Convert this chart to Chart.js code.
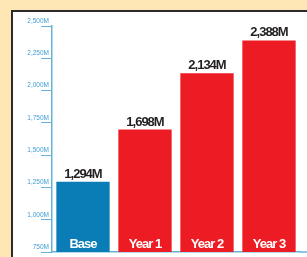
<!DOCTYPE html>
<html lang="en">
<head>
  <meta charset="UTF-8" />
  <title>Base vs Years</title>
  <script src="https://cdn.jsdelivr.net/npm/chart.js"></script>
  <style>
    html, body { margin: 0; padding: 0; }
    body { width: 307px; height: 257px; background: #fee7b4; position: relative; overflow: hidden; }
    .panel {
      position: absolute; left: 11px; top: 10px; width: 320px; height: 270px;
      background: #fff; border-left: 2px solid #2b2b2b; border-top: 2px solid #2b2b2b;
    }
    #growthChart { position: absolute; left: 0; top: 0; }
  </style>
</head>
<body>
  <div class="panel"></div>
  <canvas id="growthChart" width="307" height="257"></canvas>

  <script>
    // data
    const categories = ['Base', 'Year 1', 'Year 2', 'Year 3'];
    const values = [1294, 1698, 2134, 2388];
    const valueLabels = ['1,294M', '1,698M', '2,134M', '2,388M'];
    const tickLabels = ['750M', '1,000M', '1,250M', '1,500M', '1,750M', '2,000M', '2,250M', '2,500M'];
    const barColors = ['#0a7db6', '#ed1c24', '#ed1c24', '#ed1c24'];

    const axisBlue = '#66b2dc';

    // value on top, category name inside the bar
    const barText = {
      id: 'barText',
      afterDatasetsDraw(chart) {
        const ctx = chart.ctx;
        const meta = chart.getDatasetMeta(0);
        const area = chart.chartArea;
        ctx.save();
        ctx.textAlign = 'center';
        ctx.textBaseline = 'alphabetic';
        ctx.letterSpacing = '-1px';
        ctx.font = 'bold 13px "Liberation Sans", Arial, sans-serif';
        meta.data.forEach((bar, i) => {
          ctx.fillStyle = '#231f20';
          ctx.fillText(valueLabels[i], bar.x, bar.y - 4);
          ctx.fillStyle = '#ffffff';
          ctx.fillText(categories[i], bar.x, area.bottom - 4);
        });
        // baseline runs on to the edge of the panel
        ctx.strokeStyle = axisBlue;
        ctx.lineWidth = 1.5;
        ctx.beginPath();
        ctx.moveTo(area.right, area.bottom);
        ctx.lineTo(chart.width, area.bottom);
        ctx.stroke();
        ctx.restore();
      }
    };

    new Chart(document.getElementById('growthChart'), {
      type: 'bar',
      data: {
        labels: categories,
        datasets: [{
          data: values,
          backgroundColor: barColors,
          borderWidth: 0,
          categoryPercentage: 1,
          barPercentage: 0.86
        }]
      },
      options: {
        responsive: false,
        animation: false,
        devicePixelRatio: 1,
        layout: { padding: { top: 26, right: 7, bottom: 5, left: 0 } },
        plugins: { legend: { display: false }, tooltip: { enabled: false } },
        scales: {
          x: {
            ticks: { display: false },
            grid: { display: false, drawTicks: false },
            border: { display: true, color: axisBlue, width: 1.5 }
          },
          y: {
            min: 750,
            max: 2500,
            afterFit: (scale) => { scale.width = 52; },
            ticks: {
              stepSize: 250,
              padding: -8,
              labelOffset: -5,
              color: '#3f9dd3',
              font: { size: 6.5, family: '"Liberation Sans", Arial, sans-serif' },
              callback: (value, i) => tickLabels[i]
            },
            grid: { drawOnChartArea: false, drawTicks: true, tickLength: 11, color: axisBlue, lineWidth: 1 },
            border: { display: true, color: axisBlue, width: 1.5 }
          }
        }
      },
      plugins: [barText]
    });
  </script>
</body>
</html>
